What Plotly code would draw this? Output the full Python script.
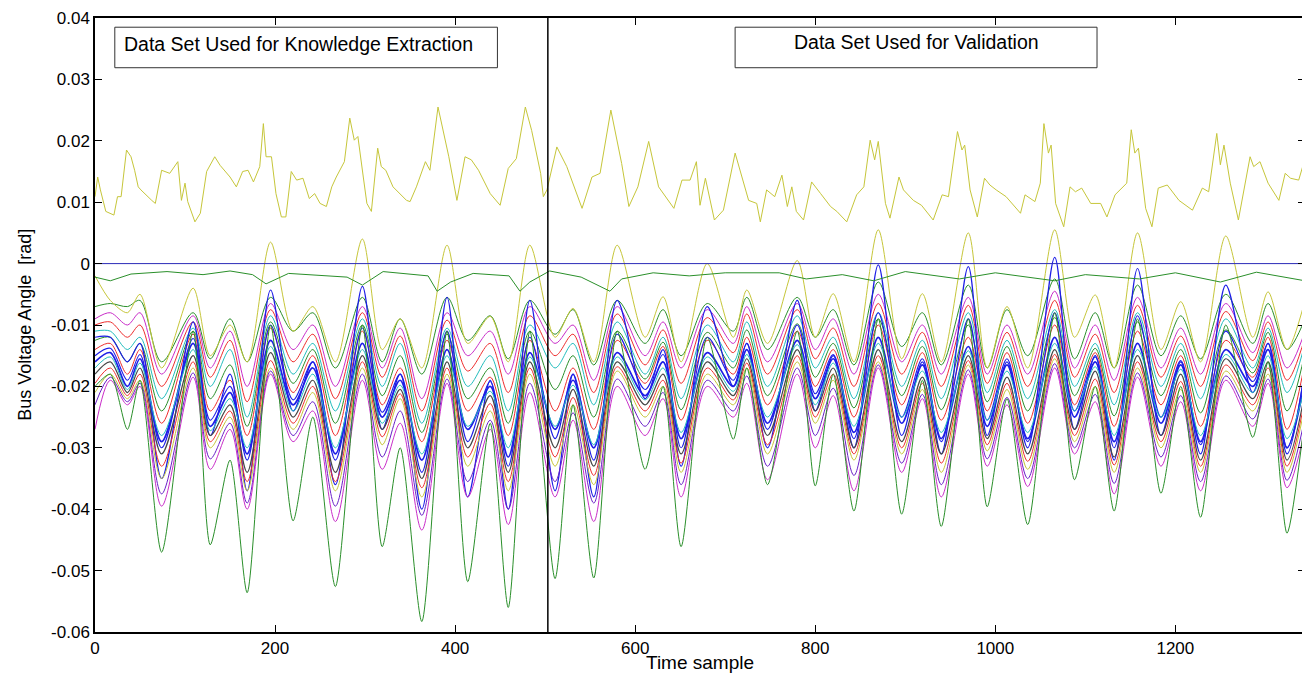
import plotly.graph_objects as go

# ---------------- data ----------------
# key time samples (troughs / peaks of the daily cycle) shared by band series
key_t = [0, 17, 36, 50, 74, 109, 128, 150,
         169, 195, 220, 242, 267, 297, 319, 339,
         363, 391, 414, 439, 459, 483, 511, 531,
         554, 580, 611, 631, 651, 680, 709, 724,
         747, 780, 800, 820, 843, 870, 896, 919,
         940, 970, 991, 1013, 1036, 1066, 1088, 1111,
         1132, 1158, 1184, 1206, 1228, 1256, 1286, 1303,
         1324, 1344]

band_top = [-0.0070, -0.0065, -0.0070, -0.0060, -0.0160, -0.0080, -0.0155, -0.0090,
            -0.0160, -0.0055, -0.0110, -0.0080, -0.0170, -0.0055, -0.0160, -0.0090,
            -0.0180, -0.0055, -0.0125, -0.0085, -0.0155, -0.0060, -0.0115, -0.0075,
            -0.0165, -0.0060, -0.0130, -0.0075, -0.0150, -0.0065, -0.0110, -0.0055,
            -0.0140, -0.0055, -0.0120, -0.0075, -0.0165, -0.0030, -0.0135, -0.0080,
            -0.0165, -0.0035, -0.0170, -0.0075, -0.0150, -0.0025, -0.0155, -0.0080,
            -0.0170, -0.0035, -0.0150, -0.0085, -0.0155, -0.0050, -0.0130, -0.0065,
            -0.0140, -0.0090]

band_up2 = [-0.0090, -0.0080, -0.0100, -0.0080, -0.0180, -0.0085, -0.0170, -0.0110,
            -0.0200, -0.0065, -0.0140, -0.0100, -0.0200, -0.0070, -0.0170, -0.0105,
            -0.0220, -0.0080, -0.0150, -0.0110, -0.0180, -0.0070, -0.0130, -0.0100,
            -0.0190, -0.0070, -0.0150, -0.0095, -0.0170, -0.0075, -0.0130, -0.0070,
            -0.0160, -0.0065, -0.0140, -0.0090, -0.0180, -0.0050, -0.0160, -0.0100,
            -0.0180, -0.0055, -0.0180, -0.0100, -0.0180, -0.0045, -0.0170, -0.0100,
            -0.0190, -0.0055, -0.0170, -0.0105, -0.0180, -0.0065, -0.0145, -0.0085,
            -0.0170, -0.0110]

band_r3 = [-0.0100, -0.0095, -0.0120, -0.0100, -0.0200, -0.0095, -0.0185, -0.0125,
           -0.0225, -0.0075, -0.0160, -0.0115, -0.0220, -0.0080, -0.0185, -0.0118,
           -0.0240, -0.0092, -0.0175, -0.0130, -0.0210, -0.0085, -0.0150, -0.0115,
           -0.0210, -0.0082, -0.0165, -0.0108, -0.0195, -0.0088, -0.0145, -0.0082,
           -0.0180, -0.0075, -0.0155, -0.0105, -0.0200, -0.0065, -0.0180, -0.0112,
           -0.0200, -0.0068, -0.0195, -0.0112, -0.0200, -0.0060, -0.0185, -0.0115,
           -0.0210, -0.0068, -0.0185, -0.0118, -0.0200, -0.0078, -0.0158, -0.0095,
           -0.0190, -0.0120]

band_cyan = [-0.0110, -0.0110, -0.0140, -0.0120, -0.0220, -0.0105, -0.0200, -0.0140,
             -0.0250, -0.0085, -0.0180, -0.0130, -0.0240, -0.0090, -0.0200, -0.0130,
             -0.0260, -0.0105, -0.0200, -0.0150, -0.0240, -0.0100, -0.0170, -0.0130,
             -0.0230, -0.0095, -0.0180, -0.0120, -0.0220, -0.0100, -0.0160, -0.0095,
             -0.0200, -0.0085, -0.0170, -0.0120, -0.0220, -0.0080, -0.0200, -0.0125,
             -0.0220, -0.0080, -0.0210, -0.0125, -0.0220, -0.0075, -0.0200, -0.0130,
             -0.0230, -0.0080, -0.0200, -0.0130, -0.0220, -0.0090, -0.0170, -0.0105,
             -0.0210, -0.0130]

band_mid2 = [-0.0125, -0.0120, -0.0160, -0.0130, -0.0240, -0.0110, -0.0220, -0.0165,
             -0.0265, -0.0095, -0.0195, -0.0140, -0.0260, -0.0100, -0.0215, -0.0150,
             -0.0275, -0.0115, -0.0220, -0.0170, -0.0260, -0.0110, -0.0205, -0.0150,
             -0.0250, -0.0110, -0.0188, -0.0128, -0.0238, -0.0112, -0.0170, -0.0108,
             -0.0215, -0.0098, -0.0185, -0.0130, -0.0235, -0.0090, -0.0215, -0.0135,
             -0.0238, -0.0100, -0.0225, -0.0135, -0.0240, -0.0088, -0.0215, -0.0138,
             -0.0248, -0.0095, -0.0215, -0.0140, -0.0243, -0.0108, -0.0178, -0.0112,
             -0.0240, -0.0145]

band_cu = [-0.0140, -0.0130, -0.0180, -0.0140, -0.0260, -0.0115, -0.0240, -0.0190,
           -0.0280, -0.0105, -0.0210, -0.0150, -0.0280, -0.0110, -0.0230, -0.0170,
           -0.0290, -0.0125, -0.0240, -0.0185, -0.0280, -0.0125, -0.0240, -0.0170,
           -0.0270, -0.0125, -0.0195, -0.0135, -0.0255, -0.0125, -0.0180, -0.0120,
           -0.0230, -0.0110, -0.0200, -0.0140, -0.0250, -0.0100, -0.0230, -0.0145,
           -0.0255, -0.0120, -0.0240, -0.0145, -0.0260, -0.0100, -0.0230, -0.0145,
           -0.0265, -0.0110, -0.0230, -0.0150, -0.0265, -0.0125, -0.0185, -0.0120,
           -0.0270, -0.0160]

band_spike = [-0.0120, -0.0120, -0.0160, -0.0130, -0.0350, -0.0095, -0.0280, -0.0180,
              -0.0370, -0.0043, -0.0240, -0.0160, -0.0360, -0.0037, -0.0270, -0.0180,
              -0.0400, -0.0055, -0.0380, -0.0190, -0.0400, -0.0060, -0.0370, -0.0180,
              -0.0380, -0.0060, -0.0220, -0.0140, -0.0330, -0.0070, -0.0200, -0.0130,
              -0.0300, -0.0060, -0.0240, -0.0150, -0.0300, -0.0002, -0.0280, -0.0160,
              -0.0310, -0.0005, -0.0280, -0.0160, -0.0300, 0.0010, -0.0270, -0.0150,
              -0.0320, -0.0008, -0.0280, -0.0160, -0.0310, -0.0035, -0.0210, -0.0130,
              -0.0310, -0.0170]

band_b2 = [-0.0150, -0.0138, -0.0190, -0.0148, -0.0300, -0.0122, -0.0255, -0.0200,
           -0.0320, -0.0100, -0.0222, -0.0160, -0.0320, -0.0105, -0.0242, -0.0180,
           -0.0340, -0.0110, -0.0290, -0.0192, -0.0330, -0.0120, -0.0285, -0.0180,
           -0.0320, -0.0115, -0.0205, -0.0148, -0.0300, -0.0120, -0.0190, -0.0130,
           -0.0270, -0.0100, -0.0212, -0.0148, -0.0285, -0.0080, -0.0250, -0.0155,
           -0.0290, -0.0090, -0.0255, -0.0155, -0.0290, -0.0080, -0.0240, -0.0152,
           -0.0300, -0.0085, -0.0250, -0.0158, -0.0295, -0.0110, -0.0192, -0.0130,
           -0.0300, -0.0175]

band_center = [-0.0160, -0.0145, -0.0200, -0.0155, -0.0290, -0.0130, -0.0265, -0.0210,
               -0.0310, -0.0125, -0.0230, -0.0170, -0.0310, -0.0130, -0.0250, -0.0190,
               -0.0320, -0.0140, -0.0270, -0.0200, -0.0315, -0.0145, -0.0270, -0.0190,
               -0.0300, -0.0145, -0.0215, -0.0160, -0.0285, -0.0145, -0.0200, -0.0140,
               -0.0260, -0.0125, -0.0220, -0.0155, -0.0275, -0.0120, -0.0260, -0.0165,
               -0.0285, -0.0135, -0.0265, -0.0165, -0.0285, -0.0120, -0.0250, -0.0160,
               -0.0290, -0.0130, -0.0260, -0.0165, -0.0290, -0.0140, -0.0200, -0.0140,
               -0.0300, -0.0190]

band_c2 = [-0.0170, -0.0152, -0.0205, -0.0162, -0.0280, -0.0140, -0.0272, -0.0220,
           -0.0300, -0.0135, -0.0240, -0.0180, -0.0300, -0.0140, -0.0260, -0.0198,
           -0.0310, -0.0150, -0.0265, -0.0208, -0.0300, -0.0152, -0.0265, -0.0198,
           -0.0295, -0.0152, -0.0222, -0.0170, -0.0275, -0.0152, -0.0208, -0.0148,
           -0.0250, -0.0132, -0.0230, -0.0162, -0.0265, -0.0130, -0.0250, -0.0175,
           -0.0275, -0.0142, -0.0255, -0.0175, -0.0275, -0.0130, -0.0240, -0.0168,
           -0.0280, -0.0140, -0.0250, -0.0172, -0.0280, -0.0148, -0.0210, -0.0150,
           -0.0285, -0.0200]

band_cl = [-0.0180, -0.0160, -0.0210, -0.0170, -0.0310, -0.0150, -0.0280, -0.0230,
           -0.0340, -0.0145, -0.0250, -0.0190, -0.0340, -0.0150, -0.0270, -0.0205,
           -0.0350, -0.0160, -0.0300, -0.0215, -0.0340, -0.0160, -0.0300, -0.0205,
           -0.0330, -0.0160, -0.0230, -0.0180, -0.0310, -0.0160, -0.0215, -0.0155,
           -0.0280, -0.0140, -0.0240, -0.0170, -0.0300, -0.0140, -0.0290, -0.0185,
           -0.0310, -0.0150, -0.0285, -0.0185, -0.0310, -0.0140, -0.0270, -0.0175,
           -0.0315, -0.0150, -0.0280, -0.0180, -0.0320, -0.0155, -0.0220, -0.0160,
           -0.0320, -0.0210]

band_r2 = [-0.0195, -0.0170, -0.0215, -0.0180, -0.0330, -0.0160, -0.0290, -0.0240,
           -0.0355, -0.0158, -0.0260, -0.0200, -0.0355, -0.0160, -0.0282, -0.0212,
           -0.0365, -0.0170, -0.0315, -0.0228, -0.0355, -0.0170, -0.0315, -0.0218,
           -0.0345, -0.0168, -0.0240, -0.0190, -0.0325, -0.0170, -0.0222, -0.0162,
           -0.0295, -0.0150, -0.0250, -0.0180, -0.0310, -0.0150, -0.0300, -0.0195,
           -0.0325, -0.0158, -0.0295, -0.0195, -0.0322, -0.0148, -0.0280, -0.0188,
           -0.0328, -0.0160, -0.0290, -0.0192, -0.0330, -0.0165, -0.0230, -0.0170,
           -0.0330, -0.0220]

band_low = [-0.0210, -0.0180, -0.0220, -0.0190, -0.0350, -0.0170, -0.0300, -0.0250,
            -0.0370, -0.0170, -0.0270, -0.0210, -0.0370, -0.0170, -0.0295, -0.0220,
            -0.0380, -0.0180, -0.0330, -0.0240, -0.0370, -0.0180, -0.0330, -0.0230,
            -0.0360, -0.0175, -0.0250, -0.0200, -0.0340, -0.0180, -0.0230, -0.0170,
            -0.0310, -0.0160, -0.0260, -0.0190, -0.0320, -0.0160, -0.0310, -0.0205,
            -0.0340, -0.0165, -0.0305, -0.0205, -0.0335, -0.0155, -0.0290, -0.0200,
            -0.0340, -0.0170, -0.0300, -0.0205, -0.0340, -0.0175, -0.0240, -0.0180,
            -0.0340, -0.0230]

band_low2 = [-0.0230, -0.0185, -0.0225, -0.0195, -0.0375, -0.0178, -0.0318, -0.0260,
             -0.0390, -0.0175, -0.0280, -0.0225, -0.0395, -0.0180, -0.0315, -0.0240,
             -0.0410, -0.0188, -0.0355, -0.0255, -0.0400, -0.0195, -0.0355, -0.0243,
             -0.0390, -0.0188, -0.0265, -0.0210, -0.0360, -0.0190, -0.0240, -0.0183,
             -0.0330, -0.0170, -0.0280, -0.0203, -0.0345, -0.0165, -0.0325, -0.0213,
             -0.0360, -0.0173, -0.0318, -0.0218, -0.0350, -0.0163, -0.0300, -0.0213,
             -0.0358, -0.0178, -0.0315, -0.0215, -0.0355, -0.0183, -0.0253, -0.0188,
             -0.0353, -0.0250]

band_deep = [-0.0270, -0.0190, -0.0230, -0.0200, -0.0395, -0.0185, -0.0335, -0.0270,
             -0.0400, -0.0180, -0.0290, -0.0240, -0.0420, -0.0190, -0.0335, -0.0260,
             -0.0434, -0.0195, -0.0380, -0.0270, -0.0425, -0.0210, -0.0380, -0.0255,
             -0.0420, -0.0200, -0.0280, -0.0220, -0.0380, -0.0200, -0.0250, -0.0195,
             -0.0352, -0.0180, -0.0300, -0.0215, -0.0370, -0.0170, -0.0340, -0.0220,
             -0.0380, -0.0180, -0.0330, -0.0230, -0.0363, -0.0170, -0.0310, -0.0225,
             -0.0375, -0.0185, -0.0330, -0.0225, -0.0370, -0.0190, -0.0265, -0.0195,
             -0.0365, -0.0270]

band_lowest = [-0.0200, -0.0180, -0.0270, -0.0190, -0.0470, -0.0110, -0.0458, -0.0320,
               -0.0536, -0.0100, -0.0419, -0.0250, -0.0526, -0.0100, -0.0461, -0.0300,
               -0.0583, -0.0110, -0.0518, -0.0260, -0.0560, -0.0110, -0.0513, -0.0230,
               -0.0512, -0.0110, -0.0335, -0.0200, -0.0461, -0.0120, -0.0286, -0.0170,
               -0.0360, -0.0110, -0.0362, -0.0180, -0.0403, -0.0090, -0.0408, -0.0190,
               -0.0428, -0.0090, -0.0396, -0.0220, -0.0425, -0.0080, -0.0352, -0.0200,
               -0.0403, -0.0090, -0.0374, -0.0200, -0.0413, -0.0100, -0.0283, -0.0160,
               -0.0439, -0.0250]

band_yellow = [-0.0020, -0.0060, -0.0080, -0.0050, -0.0170, -0.0040, -0.0150, -0.0100,
               -0.0160, 0.0035, -0.0110, -0.0070, -0.0160, 0.0040, -0.0140, -0.0090,
               -0.0170, 0.0030, -0.0130, -0.0086, -0.0160, 0.0030, -0.0120, -0.0073,
               -0.0160, 0.0030, -0.0120, -0.0054, -0.0160, 0.0000, -0.0120, -0.0043,
               -0.0130, 0.0005, -0.0120, -0.0049, -0.0160, 0.0055, -0.0155, -0.0049,
               -0.0160, 0.0050, -0.0170, -0.0070, -0.0170, 0.0055, -0.0120, -0.0051,
               -0.0170, 0.0050, -0.0140, -0.0062, -0.0160, 0.0045, -0.0120, -0.0046,
               -0.0140, -0.0060]

# green line just below zero
gtop_t = [0, 17, 40, 80, 120, 150, 175, 190, 215, 260,
          280, 297, 320, 370, 380, 395, 420, 460, 472, 483,
          505, 540, 572, 585, 620, 660, 700, 760, 790, 830,
          865, 900, 960, 1000, 1066, 1100, 1160, 1200, 1250, 1290,
          1344]
gtop_v = [-0.0022, -0.0028, -0.0017, -0.0013, -0.0018, -0.0012, -0.0018, -0.0033, -0.0016, -0.0020,
          -0.0022, -0.0035, -0.0013, -0.0020, -0.0045, -0.0030, -0.0016, -0.0020, -0.0045, -0.0030,
          -0.0012, -0.0022, -0.0045, -0.0025, -0.0015, -0.0020, -0.0015, -0.0015, -0.0025, -0.0018,
          -0.0028, -0.0013, -0.0025, -0.0015, -0.0028, -0.0018, -0.0025, -0.0015, -0.0030, -0.0014,
          -0.0028]

# reference bus (zero angle)
ref_t = [0, 1344]
ref_v = [0.0, 0.0]

# yellow line above zero
top_t = [0, 3, 6, 12, 21, 25, 29, 35, 40, 44,
         48, 51, 63, 67, 74, 83, 92, 96, 100, 103,
         111, 117, 124, 133, 139, 150, 157, 164, 170, 176,
         183, 187, 190, 196, 201, 207, 212, 218, 224, 231,
         238, 244, 250, 257, 263, 268, 277, 283, 288, 292,
         298, 302, 307, 314, 318, 323, 331, 338, 346, 350,
         357, 367, 372, 381, 387, 393, 402, 411, 418, 426,
         439, 450, 459, 468, 478, 485, 495, 498, 502, 513,
         524, 541, 552, 561, 573, 579, 585, 593, 603, 615,
         626, 643, 652, 661, 668, 672, 678, 688, 698, 711,
         720, 726, 735, 739, 746, 755, 763, 769, 774, 779,
         787, 796, 806, 817, 824, 835, 846, 854, 861, 866,
         870, 878, 883, 893, 898, 909, 918, 931, 941, 948,
         958, 963, 966, 972, 980, 988, 994, 1001, 1012, 1028,
         1033, 1044, 1050, 1054, 1059, 1062, 1067, 1076, 1083, 1089,
         1096, 1106, 1117, 1124, 1133, 1146, 1151, 1155, 1159, 1167,
         1174, 1181, 1191, 1204, 1219, 1230, 1237, 1246, 1250, 1254,
         1261, 1270, 1283, 1287, 1294, 1303, 1315, 1322, 1328, 1337,
         1342, 1344]
top_v = [0.0109, 0.0141, 0.0120, 0.0085, 0.0079, 0.0109, 0.0109, 0.0185, 0.0174, 0.0152,
         0.0125, 0.0120, 0.0103, 0.0098, 0.0152, 0.0147, 0.0166, 0.0103, 0.0131, 0.0101,
         0.0068, 0.0082, 0.0150, 0.0174, 0.0160, 0.0141, 0.0125, 0.0150, 0.0152, 0.0133,
         0.0158, 0.0228, 0.0174, 0.0174, 0.0114, 0.0076, 0.0076, 0.0150, 0.0136, 0.0139,
         0.0106, 0.0114, 0.0098, 0.0093, 0.0125, 0.0141, 0.0166, 0.0237, 0.0201, 0.0207,
         0.0141, 0.0098, 0.0085, 0.0188, 0.0158, 0.0152, 0.0125, 0.0114, 0.0103, 0.0101,
         0.0125, 0.0166, 0.0152, 0.0255, 0.0212, 0.0174, 0.0103, 0.0174, 0.0169, 0.0152,
         0.0114, 0.0095, 0.0155, 0.0171, 0.0255, 0.0217, 0.0147, 0.0109, 0.0120, 0.0190,
         0.0158, 0.0090, 0.0141, 0.0147, 0.0250, 0.0207, 0.0163, 0.0093, 0.0125, 0.0199,
         0.0125, 0.0090, 0.0136, 0.0136, 0.0166, 0.0095, 0.0139, 0.0071, 0.0087, 0.0180,
         0.0136, 0.0103, 0.0098, 0.0068, 0.0120, 0.0109, 0.0144, 0.0093, 0.0125, 0.0085,
         0.0071, 0.0133, 0.0114, 0.0093, 0.0085, 0.0068, 0.0112, 0.0125, 0.0201, 0.0169,
         0.0199, 0.0098, 0.0074, 0.0141, 0.0120, 0.0103, 0.0095, 0.0071, 0.0112, 0.0109,
         0.0215, 0.0185, 0.0193, 0.0120, 0.0076, 0.0139, 0.0128, 0.0120, 0.0109, 0.0082,
         0.0112, 0.0101, 0.0131, 0.0228, 0.0180, 0.0193, 0.0098, 0.0060, 0.0125, 0.0117,
         0.0123, 0.0098, 0.0098, 0.0076, 0.0112, 0.0131, 0.0218, 0.0180, 0.0188, 0.0090,
         0.0060, 0.0123, 0.0128, 0.0103, 0.0087, 0.0123, 0.0117, 0.0212, 0.0161, 0.0193,
         0.0131, 0.0071, 0.0174, 0.0158, 0.0166, 0.0131, 0.0103, 0.0147, 0.0139, 0.0136,
         0.0161, 0.0131]

split_sample = 503
x_ticks = [0, 200, 400, 600, 800, 1000, 1200]
y_ticks = [-0.06, -0.05, -0.04, -0.03, -0.02, -0.01, 0, 0.01, 0.02, 0.03, 0.04]
y_tick_text = ["-0.06", "-0.05", "-0.04", "-0.03", "-0.02", "-0.01", "0",
               "0.01", "0.02", "0.03", "0.04"]
box_labels = ["Data Set Used for Knowledge Extraction", "Data Set Used for Validation"]

band_series = [band_top, band_up2, band_r3, band_cyan, band_mid2, band_cu, band_spike,
               band_b2, band_center, band_c2, band_cl, band_r2, band_low, band_low2, band_deep]
for s in band_series + [band_lowest, band_yellow]:
    assert len(s) == len(key_t), len(s)
assert len(top_t) == len(top_v)
assert len(gtop_t) == len(gtop_v)

# ---------------- styling ----------------
C_B = "#1E1EE6"
C_G = "#2A8F2A"
C_R = "#EE2E2E"
C_C = "#22BDBD"
C_M = "#C92DC9"
C_Y = "#C6C63A"
C_K = "#474747"
C_P = "#6A1FC8"

band_colors = [C_G, C_M, C_R, C_C, C_G, C_R, C_B, C_B, C_B, C_C, C_K, C_R, C_Y, C_P, C_M]
band_widths = [1, 1, 1, 1, 1, 1, 1.2, 1.1, 1.7, 1, 1.2, 1, 1, 1, 1]

fig = go.Figure()
for vals, col, w in zip(band_series, band_colors, band_widths):
    fig.add_trace(go.Scatter(x=key_t, y=vals, mode="lines",
                             line=dict(color=col, width=w, shape="spline", smoothing=0.9)))
fig.add_trace(go.Scatter(x=key_t, y=band_lowest, mode="lines",
                         line=dict(color=C_G, width=1, shape="spline", smoothing=0.7)))
fig.add_trace(go.Scatter(x=key_t, y=band_yellow, mode="lines",
                         line=dict(color=C_Y, width=1, shape="spline", smoothing=0.8)))
fig.add_trace(go.Scatter(x=gtop_t, y=gtop_v, mode="lines",
                         line=dict(color=C_G, width=1)))
fig.add_trace(go.Scatter(x=ref_t, y=ref_v, mode="lines",
                         line=dict(color="#2B2BB8", width=1)))
fig.add_trace(go.Scatter(x=top_t, y=top_v, mode="lines",
                         line=dict(color=C_Y, width=1)))

FONT = "Liberation Sans, Arial, Helvetica, sans-serif"
NARROW = "Liberation Sans Narrow, Liberation Sans, Arial, sans-serif"

# divider between the two data sets
fig.add_shape(type="line", x0=split_sample, x1=split_sample, y0=-0.06, y1=0.04,
              xref="x", yref="y", line=dict(color="black", width=1.5), layer="above")

# label boxes
fig.add_shape(type="rect", x0=22, x1=447, y0=0.0319, y1=0.0385, xref="x", yref="y",
              line=dict(color="#333333", width=1), fillcolor="white", layer="above")
fig.add_shape(type="rect", x0=711, x1=1113, y0=0.0319, y1=0.0385, xref="x", yref="y",
              line=dict(color="#333333", width=1), fillcolor="white", layer="above")
fig.add_annotation(x=226, y=0.0357, xref="x", yref="y", text=box_labels[0], showarrow=False,
                   font=dict(family=FONT, size=19.5, color="black"))
fig.add_annotation(x=912, y=0.0361, xref="x", yref="y", text=box_labels[1], showarrow=False,
                   font=dict(family=FONT, size=19.5, color="black"))

# axis titles
fig.add_annotation(x=0.5, y=-0.049, xref="paper", yref="paper", text="Time sample",
                   showarrow=False, yanchor="middle",
                   font=dict(family=NARROW, size=19, color="black"))
fig.add_annotation(x=-0.058, y=0.5, xref="paper", yref="paper", text="Bus Voltage Angle  [rad]",
                   showarrow=False, textangle=-90, xanchor="center",
                   font=dict(family=FONT, size=18, color="black"))

# the page body has an 8px margin, so the margins below are shifted to compensate
fig.update_layout(
    width=1310, height=675,
    margin=dict(l=87, r=13, t=10, b=51),
    paper_bgcolor="white", plot_bgcolor="white",
    showlegend=False, hovermode=False,
    xaxis=dict(range=[0, 1344], tickvals=x_ticks, ticks="inside", ticklen=7,
               tickcolor="black", showline=True, linecolor="black", linewidth=1.5,
               mirror="ticks", showgrid=False, zeroline=False, automargin=False,
               tickfont=dict(family=NARROW, size=17, color="black")),
    yaxis=dict(range=[-0.06, 0.04], tickvals=y_ticks, ticktext=y_tick_text,
               ticks="inside", ticklen=7, tickcolor="black", showline=True,
               linecolor="black", linewidth=1.5, mirror="ticks", showgrid=False,
               zeroline=False, automargin=False,
               tickfont=dict(family=FONT, size=17, color="black")),
)

fig.write_html("out.html")
